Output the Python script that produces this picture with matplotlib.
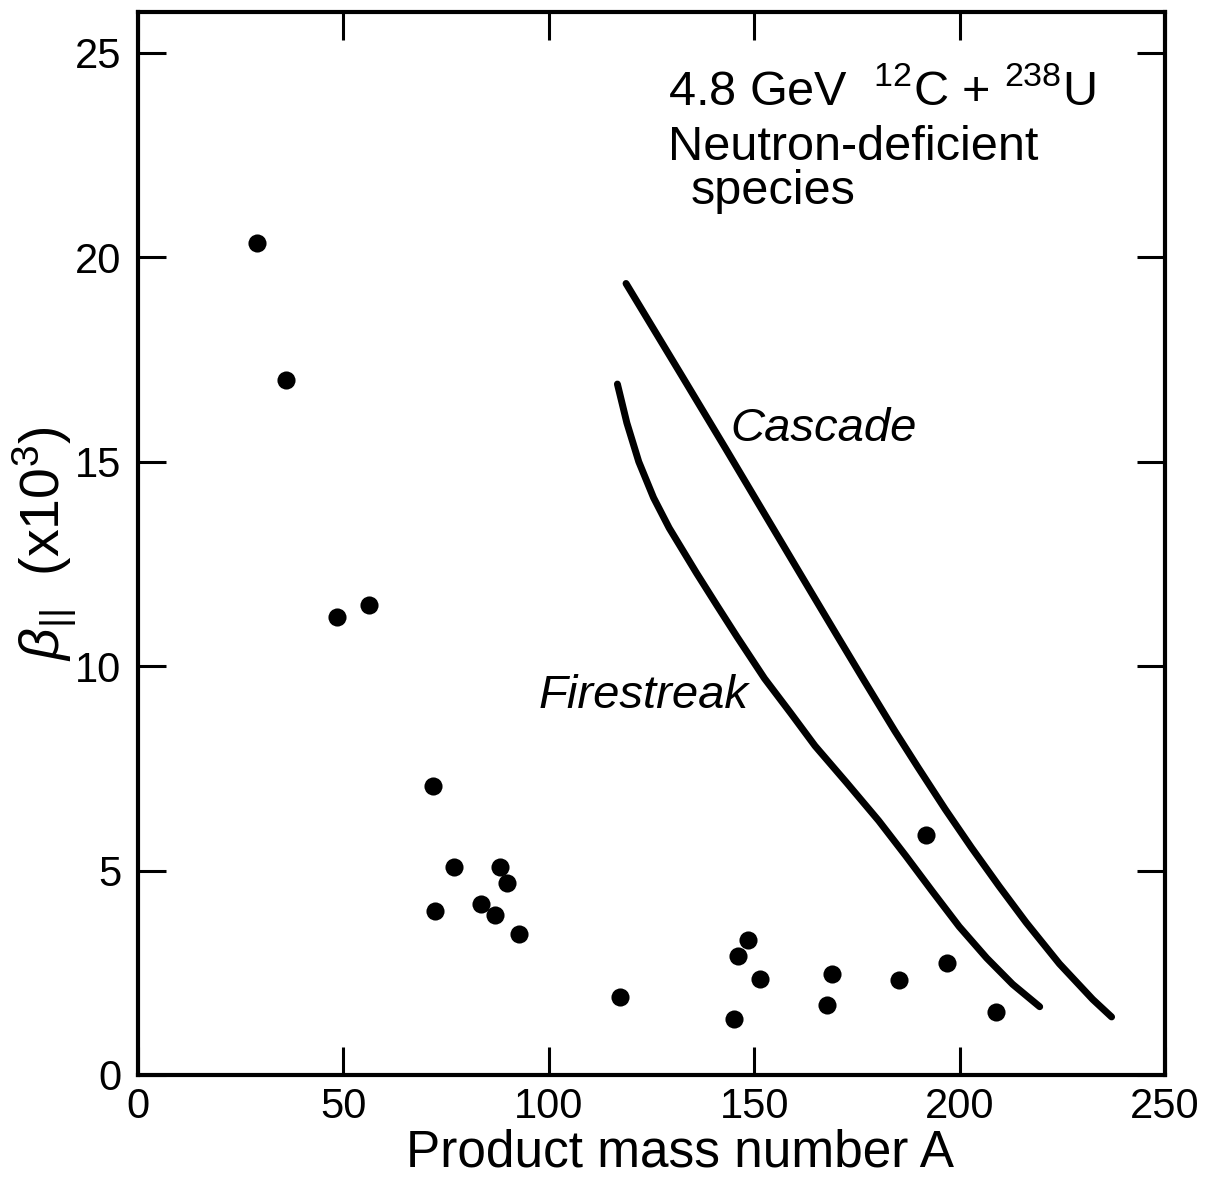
import matplotlib
matplotlib.use("Agg")
import matplotlib.pyplot as plt

plt.rcParams['font.family'] = ['Liberation Sans', 'DejaVu Sans']
plt.rcParams['mathtext.fontset'] = 'custom'
plt.rcParams['mathtext.rm'] = 'Liberation Sans'
plt.rcParams['mathtext.it'] = 'Liberation Sans:italic'
plt.rcParams['mathtext.default'] = 'regular'

# Measured points: product mass number A vs beta_parallel (x10^3)
mass_A = [29.0, 36.0, 48.5, 56.2, 71.7, 72.2, 76.9, 83.4, 88.2, 89.9, 86.8, 92.8,
          117.3, 145.0, 146.1, 148.5, 151.3, 167.6, 169.0, 185.2, 191.7, 197.0, 208.9]
beta_par = [20.36, 17.0, 11.2, 11.5, 7.07, 4.0, 5.09, 4.19, 5.08, 4.69, 3.92, 3.46,
            1.90, 1.37, 2.92, 3.29, 2.36, 1.70, 2.48, 2.33, 5.88, 2.74, 1.55]

# Cascade calculation curve
cascade_A = [118.8, 132.4, 143.0, 150.4, 157.1, 163.5, 170.1, 176.8, 184.2, 189.9,
             196.5, 202.9, 209.6, 216.2, 224.3, 232.4, 237.0]
cascade_beta = [19.36, 17.10, 15.33, 14.08, 12.95, 11.87, 10.76, 9.64, 8.42, 7.52,
                6.50, 5.56, 4.62, 3.73, 2.72, 1.85, 1.42]

# Firestreak calculation curve
fire_A = [116.7, 119.0, 121.9, 125.5, 129.3, 136.0, 140.9, 145.8, 152.5, 158.9,
          164.8, 172.5, 180.3, 186.9, 193.3, 199.9, 206.6, 212.9, 219.5]
fire_beta = [16.90, 15.95, 15.00, 14.12, 13.38, 12.27, 11.49, 10.72, 9.70, 8.85,
             8.05, 7.15, 6.22, 5.36, 4.50, 3.63, 2.86, 2.22, 1.67]

x_ticks = [0, 50, 100, 150, 200, 250]
y_ticks = [0, 5, 10, 15, 20, 25]

fig = plt.figure(figsize=(12.10, 11.83), dpi=100)
ax = fig.add_axes([138 / 1210, 1 - 1075 / 1183, 1027 / 1210, 1063 / 1183])

ax.scatter(mass_A, beta_par, s=170, color='black', zorder=3, linewidths=0)
for xs, ys in ((cascade_A, cascade_beta), (fire_A, fire_beta)):
    ax.plot(xs, ys, color='black', lw=5, solid_capstyle='round',
            solid_joinstyle='round')

ax.set_xlim(0, 250)
ax.set_ylim(0, 26)
ax.set_xticks(x_ticks)
ax.set_yticks(y_ticks)
ax.set_xticklabels([str(v) for v in x_ticks])
ax.set_yticklabels([str(v) for v in y_ticks])

for sp in ax.spines.values():
    sp.set_linewidth(3)
ax.tick_params(direction='in', length=20, width=2.2, labelsize=30,
               top=True, right=True)
ax.tick_params(axis='x', pad=9)
ax.tick_params(axis='y', pad=12)

ax.set_xlabel('Product mass number A', fontsize=37)
ax.xaxis.set_label_coords(0.528, -0.050)
ax.set_ylabel(r'$\mathit{\beta}_{||}$  (x10$^3$)', fontsize=40)
ax.yaxis.set_label_coords(-0.058, 0.5)

ax.text(129, 23.73, r'4.8 GeV  $^{12}$C + $^{238}$U', fontsize=35,
        ha='left', va='baseline')
ax.text(129, 22.38, 'Neutron-deficient', fontsize=35, ha='left', va='baseline')
ax.text(134.5, 21.3, 'species', fontsize=35, ha='left', va='baseline')

ax.text(144.3, 15.5, 'Cascade', fontsize=34, style='italic', ha='left', va='baseline')
ax.text(97.5, 8.97, 'Firestreak', fontsize=34, style='italic', ha='left', va='baseline')

fig.savefig('out.png', dpi=100)
